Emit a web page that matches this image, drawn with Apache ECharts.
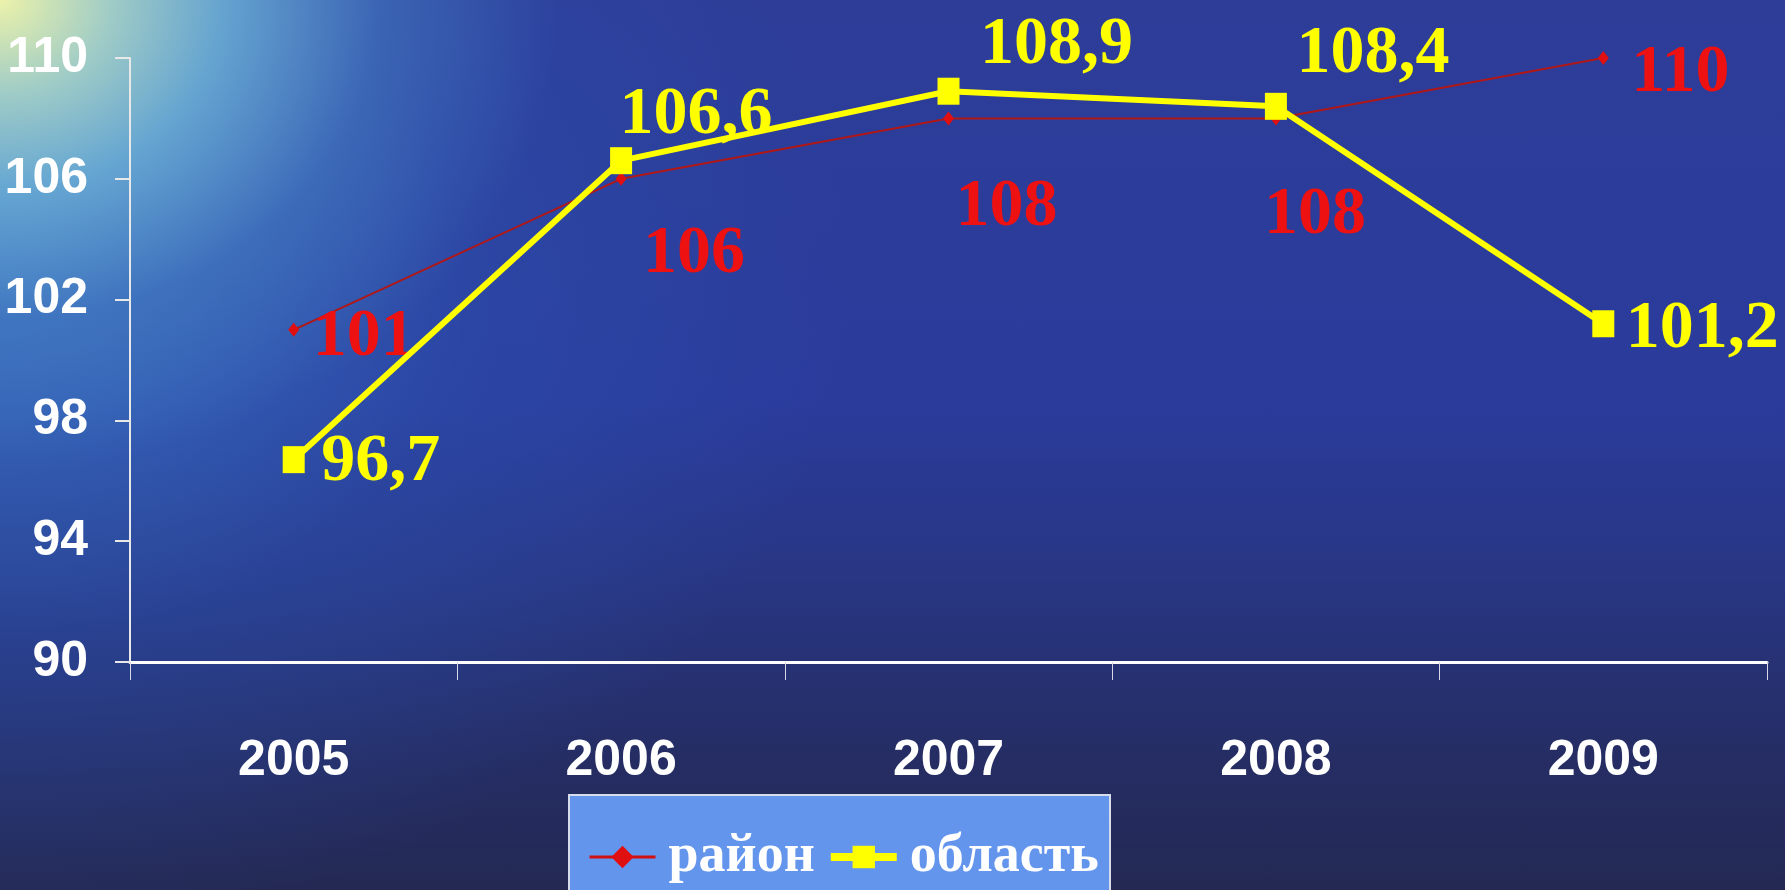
<!DOCTYPE html>
<html>
<head>
<meta charset="utf-8">
<script src="https://cdn.jsdelivr.net/npm/echarts@6/dist/echarts.min.js"></script>
<style>
html,body{margin:0;padding:0;width:1785px;height:890px;overflow:hidden;}
body{
  background:
    radial-gradient(ellipse 560px 470px at 0px 0px, rgba(236,242,170,1) 0%, rgba(165,210,200,0.95) 20%, rgba(110,178,215,0.85) 40%, rgba(70,125,195,0.55) 68%, rgba(45,80,170,0) 100%),
    radial-gradient(ellipse 850px 650px at 0px 280px, rgba(60,125,200,0.8) 0%, rgba(45,85,178,0.4) 55%, rgba(40,60,160,0) 100%),
    linear-gradient(to bottom, #2d3d98 0%, #2a3b9c 45%, #283683 65%, #252d64 85%, #242953 100%);
}
#chart{width:1785px;height:890px;}
</style>
</head>
<body>
<div id="chart"></div>
<script>
// ---- data ----
const years = ['2005', '2006', '2007', '2008', '2009'];
const rayon = [101, 106, 108, 108, 110];
const oblast = [96.7, 106.6, 108.9, 108.4, 101.2];
const seriesNames = ['район', 'область'];
const yMin = 90, yMax = 110, yStep = 4;

// ---- label placement (styling, not data) ----
const rayonLabelOffsets = [[70, 8], [73, 76], [58, 89], [39, 97], [77, 15]];
const oblastLabelOffsets = [[87, 3], [75, -45], [108, -46], [97, -52], [99, 6]];

const fmt = v => String(v).replace('.', ',');

function buildData(values, offsets) {
  return values.map((v, i) => ({ value: v, label: { offset: offsets[i] } }));
}

const labelFont = "'Liberation Serif', 'Times New Roman', serif";
const axisFont = "'Liberation Sans Narrow', 'Arial Narrow', 'Liberation Sans', Arial, sans-serif";

const chart = echarts.init(document.getElementById('chart'), null, { renderer: 'canvas' });
chart.setOption({
  backgroundColor: 'transparent',
  animation: false,
  grid: { left: 130, right: 18, top: 58, bottom: 228, containLabel: false, outerBoundsMode: 'none' },
  xAxis: {
    type: 'category',
    data: years,
    boundaryGap: true,
    axisLine: { lineStyle: { color: '#ffffff', width: 3 } },
    axisTick: { show: true, length: 18, lineStyle: { color: '#d8d8e8', width: 1 } },
    axisLabel: { color: '#ffffff', fontFamily: axisFont, fontWeight: 'bold', fontSize: 50, margin: 74 },
    splitLine: { show: false }
  },
  yAxis: {
    type: 'value',
    min: yMin, max: yMax, interval: yStep,
    axisLine: { show: true, lineStyle: { color: '#e8e8e8', width: 2 } },
    axisTick: { show: true, length: 15, lineStyle: { color: '#e8e8e8', width: 2 } },
    axisLabel: { color: '#ffffff', fontFamily: axisFont, fontWeight: 'bold', fontSize: 50, margin: 42 },
    splitLine: { show: false }
  },
  legend: {
    data: [
      { name: seriesNames[0], lineStyle: { width: 3, color: '#d01010' } },
      { name: seriesNames[1], lineStyle: { width: 8, color: '#ffff00' } }
    ],
    left: 583, top: 825,
    itemWidth: 66, itemHeight: 28, itemGap: 12,
    textStyle: { color: '#ffffff', fontFamily: labelFont, fontWeight: 'bold', fontSize: 54, padding: [0, 0, 0, 8] }
  },
  graphic: [{
    type: 'rect', z: -1, silent: true,
    shape: { x: 569, y: 795, width: 541, height: 120 },
    style: { fill: '#6495ed', stroke: '#d6dcea', lineWidth: 2 }
  }],
  series: [
    {
      name: seriesNames[0],
      type: 'line',
      data: buildData(rayon, rayonLabelOffsets),
      symbol: 'diamond', symbolSize: [11, 14],
      itemStyle: { color: '#e01010' },
      lineStyle: { color: '#b01818', width: 2 },
      label: {
        show: true, position: 'inside', formatter: p => fmt(p.value),
        color: '#ee1111', fontFamily: labelFont, fontWeight: 'bold', fontSize: 68
      },
      z: 2
    },
    {
      name: seriesNames[1],
      type: 'line',
      data: buildData(oblast, oblastLabelOffsets),
      symbol: 'rect', symbolSize: [22, 27],
      itemStyle: { color: '#ffff00' },
      lineStyle: { color: '#ffff00', width: 6 },
      label: {
        show: true, position: 'inside', formatter: p => fmt(p.value),
        color: '#ffff00', fontFamily: labelFont, fontWeight: 'bold', fontSize: 68
      },
      z: 3
    }
  ]
});
</script>
</body>
</html>
